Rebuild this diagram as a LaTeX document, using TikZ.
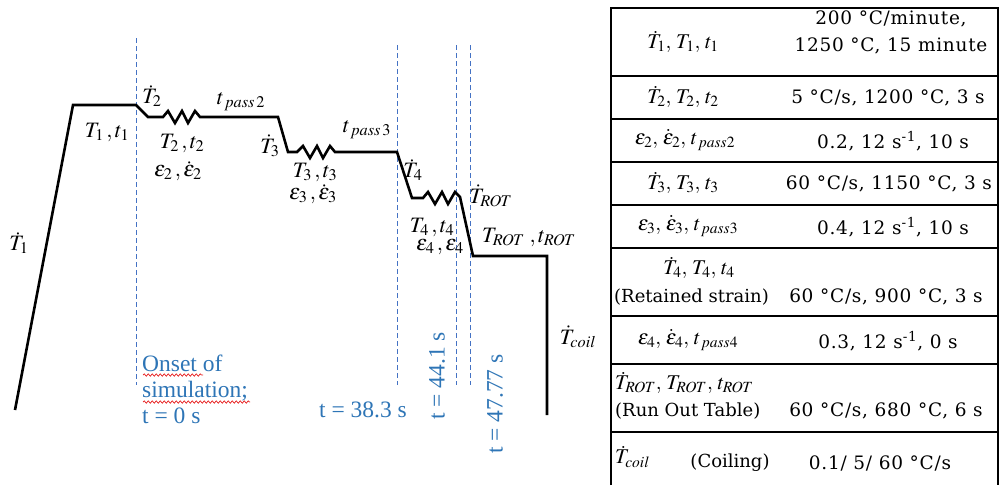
\documentclass[tikz,border=0pt]{standalone}
\usepackage{mathptmx}
\usepackage[no-math]{fontspec}
\setmainfont{Liberation Serif}
\newfontfamily\tabfont{DejaVu Serif}
\newfontfamily\tabfontw[LetterSpace=4]{DejaVu Serif}
\usetikzlibrary{decorations.pathmorphing}
\definecolor{dashblue}{RGB}{68,114,196}
\definecolor{txtblue}{RGB}{46,117,182}
\definecolor{squig}{RGB}{230,30,30}
\begin{document}
\begin{tikzpicture}[x=1pt,y=-1pt,
  curve/.style={line width=2.6pt, line join=miter, line cap=butt},
  guide/.style={dashblue, dash pattern=on 5pt off 3pt, line width=0.9pt},
  lbl/.style={inner sep=0pt, font=\fontsize{22}{24}\selectfont},
  blu/.style={inner sep=0pt, text=txtblue, font=\fontsize{23.5}{26}\selectfont},
  cellL/.style={inner sep=0pt, font=\fontsize{21}{23}\selectfont},
  cellT/.style={inner sep=0pt, font=\tabfont\fontsize{18}{20}\selectfont},
  cellR/.style={inner sep=0pt, font=\tabfontw\fontsize{18.5}{27}\selectfont, align=center},
  tabline/.style={line width=1.2pt},
  squiggle/.style={squig, line width=0.7pt, decorate, decoration={snake, amplitude=1.2pt, segment length=4pt}}]
\useasboundingbox (0,0) rectangle (1001,485);

% guides
\draw[guide] (136,38) -- (136,385);
\draw[guide] (397,45) -- (397,385);
\draw[guide] (456,45) -- (456,385);
\draw[guide] (470,45) -- (470,385);

% temperature profile
\draw[curve] (15,410) -- (73,105) -- (136,105) -- (148,117) -- (163,117)
  -- (168,111) -- (175,123) -- (182,111) -- (188,123) -- (195,111) -- (200,117)
  -- (278,117) -- (288,152) -- (297,152)
  -- (303,146) -- (310,158) -- (317,146) -- (323,158) -- (330,146) -- (335,152)
  -- (397,152) -- (412,198) -- (423,198)
  -- (428,192) -- (435,204) -- (442,192) -- (448,204) -- (455,192) -- (460,197)
  -- (473,256) -- (547,256) -- (547,415);

% labels on the profile
\node[lbl] (Td1) at (19,243) {$\dot T_1$};
\node[lbl] (T1) at (107,132) {$T_1\,, t_1$};
\node[lbl] (Td2) at (152,96) {$\dot T_2$};
\node[lbl] (tp2) at (241,102) {$t_{\,pass\,2}$};
\node[lbl] (T2) at (182,143) {$T_2\,, t_2$};
\node[lbl] (e2) at (178,171) {$\varepsilon_2\,, \dot\varepsilon_2$};
\node[lbl] (Td3) at (270,146) {$\dot T_3$};
\node[lbl] (tp3) at (367,130) {$t_{\,pass\,3}$};
\node[lbl] (T3) at (315,172) {$T_3\,, t_3$};
\node[lbl] (e3) at (313,194) {$\varepsilon_3\,, \dot\varepsilon_3$};
\node[lbl] (Td4) at (413,170) {$\dot T_4$};
\node[lbl] (TdR) at (491,196) {$\dot T_{ROT}$};
\node[lbl] (T4) at (432,227) {$T_4\,, t_4$};
\node[lbl] (e4) at (440,247) {$\varepsilon_4\,, \varepsilon_4$};
\node[lbl] (TR) at (529,237) {$T_{ROT}\;, t_{ROT}$};
\node[lbl] (Tc) at (578,337) {$\dot T_{coil}$};

% blue annotations
\node[blu, anchor=base west] (on1) at (142,371) {Onset of};
\node[blu, anchor=base west] (on2) at (142,397) {simulation;};
\node[blu, anchor=base west] (on3) at (142,423) {t = 0 s};
\draw[squiggle] (143,375) -- (203,375);
\draw[squiggle] (143,402) -- (250,402);
\node[blu, anchor=base] (t38) at (363,417) {t = 38.3 s};
\node[blu, rotate=90] (t44) at (437,376) {t = 44.1 s};
\node[blu, rotate=90] (t47) at (495,404) {t = 47.77 s};

% table
\draw[tabline] (611,485) -- (611,8) -- (998,8) -- (998,485);
\foreach \yy in {76,119,162,205,248,316,364,432}
  \draw[tabline] (611,\yy) -- (998,\yy);

\node[cellL] (r1l) at (683,42) {$\dot T_1,\, T_1,\, t_1$};
\node[cellR] (r1r) at (891,32) {200 °C/minute,\\1250 °C, 15 minute};
\node[cellL] (r2l) at (683,97) {$\dot T_2,\, T_2,\, t_2$};
\node[cellR] (r2r) at (888,98) {5 °C/s, 1200 °C, 3 s};
\node[cellL] (r3l) at (685,140) {$\varepsilon_2,\, \dot\varepsilon_2,\, t_{\,pass2}$};
\node[cellR] (r3r) at (893,141) {0.2, 12 s\textsuperscript{-1}, 10 s};
\node[cellL] (r4l) at (683,183) {$\dot T_3,\, T_3,\, t_3$};
\node[cellR] (r4r) at (889,184) {60 °C/s, 1150 °C, 3 s};
\node[cellL] (r5l) at (688,226) {$\varepsilon_3,\, \dot\varepsilon_3,\, t_{\,pass3}$};
\node[cellR] (r5r) at (893,227) {0.4, 12 s\textsuperscript{-1}, 10 s};
\node[cellL] (r6l) at (699,268) {$\dot T_4,\, T_4,\, t_4$};
\node[cellT, anchor=west] (r6t) at (614,297) {(Retained strain)};
\node[cellR] (r6r) at (886,297) {60 °C/s, 900 °C, 3 s};
\node[cellL] (r7l) at (688,340) {$\varepsilon_4,\, \dot\varepsilon_4,\, t_{\,pass4}$};
\node[cellR] (r7r) at (888,341) {0.3, 12 s\textsuperscript{-1}, 0 s};
\node[cellL, anchor=west] (r8l) at (615,383) {$\dot T_{ROT},\, T_{ROT},\, t_{ROT}$};
\node[cellT, anchor=west] (r8t) at (615,411) {(Run Out Table)};
\node[cellR] (r8r) at (886,411) {60 °C/s, 680 °C, 6 s};
\node[cellL, anchor=west] (r9l) at (615,457) {$\dot T_{coil}$};
\node[cellT] (r9t) at (730,463) {(Coiling)};
\node[cellR] (r9r) at (880,463) {0.1/ 5/ 60 °C/s};
\end{tikzpicture}
\end{document}
